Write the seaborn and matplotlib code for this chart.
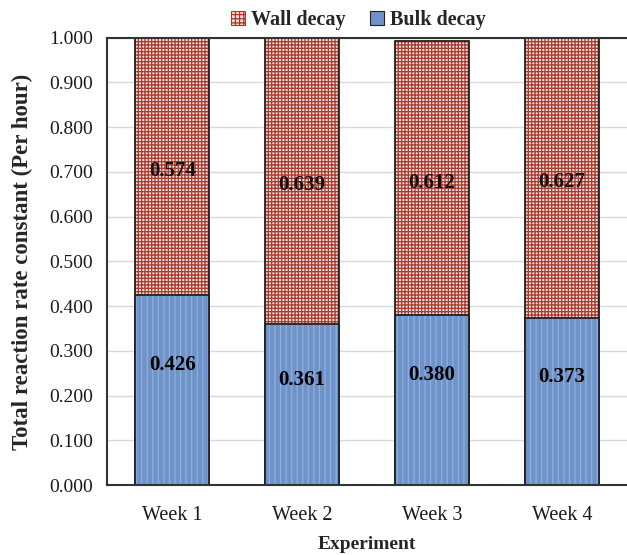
import matplotlib
matplotlib.use('Agg')
import matplotlib.pyplot as plt
import seaborn as sns
import pandas as pd
from matplotlib.patches import Patch

# dados
weeks = ['Week 1', 'Week 2', 'Week 3', 'Week 4']
bulk = [0.426, 0.361, 0.380, 0.373]
wall = [0.574, 0.639, 0.612, 0.627]
y_ticks = [0.0, 0.1, 0.2, 0.3, 0.4, 0.5, 0.6, 0.7, 0.8, 0.9, 1.0]

df = pd.DataFrame({'week': weeks, 'bulk': bulk, 'wall': wall})
df['total'] = df['bulk'] + df['wall']

sns.set_style('white')
plt.rcParams['font.family'] = ['Liberation Serif', 'DejaVu Serif']
plt.rcParams['hatch.linewidth'] = 0.9

fig = plt.figure(figsize=(6.27, 5.55), dpi=100)
ax = fig.add_axes([0.171, 0.126, 0.829, 0.806])

wall_face = '#f4e0dc'
wall_hatch = '#a8382c'
bulk_face = '#6f93c9'
bulk_hatch = '#8db0e0'
edge = '#222222'

# Parede (total empilhado)
sns.barplot(data=df, x='week', y='total', color=wall_face, width=0.57,
            saturation=1, hatch='+++++', edgecolor=wall_hatch, linewidth=0, ax=ax)
sns.barplot(data=df, x='week', y='total', fill=False, width=0.57,
            edgecolor=edge, linewidth=1.3, ax=ax)
# Bulk
sns.barplot(data=df, x='week', y='bulk', color=bulk_face, width=0.57,
            saturation=1, hatch='|||', edgecolor=bulk_hatch, linewidth=0, ax=ax)
sns.barplot(data=df, x='week', y='bulk', fill=False, width=0.57,
            edgecolor=edge, linewidth=1.3, ax=ax)

# rótulos
for i in range(len(weeks)):
    ax.text(i, bulk[i] / 2 + 0.055, f'{bulk[i]:.3f}', ha='center', va='center',
            fontsize=15, fontweight='bold', color='black')
    ax.text(i, bulk[i] + wall[i] / 2 - 0.01, f'{wall[i]:.3f}', ha='center', va='center',
            fontsize=15, fontweight='bold', color='#111111')

ax.set_xlim(-0.5, 3.5)
ax.set_ylim(0, 1.0)
ax.set_yticks(y_ticks)
ax.set_yticklabels([f'{v:.3f}' for v in y_ticks])
ax.yaxis.grid(True, color='#d9d9d9', linewidth=1)
ax.set_axisbelow(True)
ax.tick_params(axis='both', length=0, labelsize=14, colors='#1a1a1a')
ax.tick_params(axis='y', pad=10)
ax.tick_params(axis='x', pad=15, labelsize=14.5)

for s in ['left', 'bottom', 'top']:
    ax.spines[s].set_color('#333333')
    ax.spines[s].set_linewidth(1.5)
ax.spines['right'].set_visible(False)

ax.set_xlabel('Experiment', fontsize=14, fontweight='bold', labelpad=8)
ax.set_ylabel('Total reaction rate constant (Per hour)', fontsize=16.5,
              fontweight='bold', labelpad=12)

handles = [Patch(facecolor=wall_face, edgecolor=wall_hatch, hatch='++++', linewidth=0.8),
           Patch(facecolor=bulk_face, edgecolor=edge, linewidth=0.8)]
fig.legend(handles, ['Wall decay', 'Bulk decay'], loc='upper center',
           bbox_to_anchor=(0.571, 1.015), ncol=2, frameon=False,
           prop={'family': 'Liberation Serif', 'weight': 'bold', 'size': 14.5},
           handlelength=0.7, handleheight=0.7, handletextpad=0.3, columnspacing=1.2)

plt.savefig('out.png', dpi=100)
